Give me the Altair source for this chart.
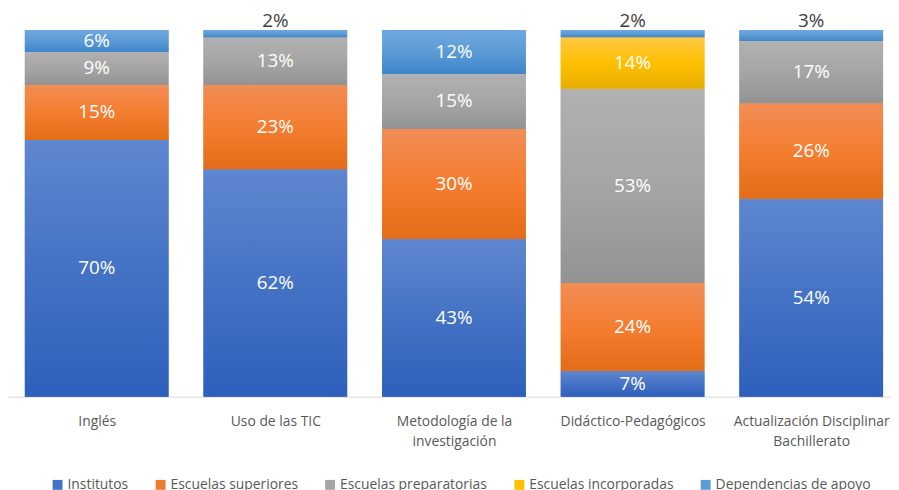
import altair as alt
import pandas as pd
import json

categories = ["Inglés", "Uso de las TIC", "Metodología de la investigación",
              "Didáctico-Pedagógicos", "Actualización Disciplinar Bachillerato"]
series = ["Institutos", "Escuelas superiores", "Escuelas preparatorias",
          "Escuelas incorporadas", "Dependencias de apoyo"]
institutos = [70, 62, 43, 7, 54]
superiores = [15, 23, 30, 24, 26]
preparatorias = [9, 13, 15, 53, 17]
incorporadas = [0, 0, 0, 14, 0]
apoyo = [6, 2, 12, 2, 3]

solid_colors = ["#4472c4", "#ed7d31", "#a5a5a5", "#ffc000", "#5b9bd5"]
gradient_stops = [
    ["#5f87cf", "#4472c4", "#2e5fbb"],
    ["#f18d55", "#f47d30", "#e36c18"],
    ["#b1b1b1", "#a5a5a5", "#939393"],
    ["#ffc843", "#ffc000", "#e5ad00"],
    ["#71a7e0", "#5b9bd5", "#3f85cb"],
]

HALF_BAR = 0.4022  # half bar width, in category steps

values_by_series = [institutos, superiores, preparatorias, incorporadas, apoyo]
rows = []
for si, (s, vals) in enumerate(zip(series, values_by_series)):
    for ci, c in enumerate(categories):
        if vals[ci] > 0:
            rows.append({"cat": c, "ci": ci, "series": s, "idx": si, "value": vals[ci]})
df = pd.DataFrame(rows)

line_breaks = {
    "Metodología de la investigación": ["Metodología de la", "investigación"],
    "Actualización Disciplinar Bachillerato": ["Actualización Disciplinar", "Bachillerato"],
}
label_list = [line_breaks.get(c, c) for c in categories]
expr = json.dumps(label_list, ensure_ascii=False) + "[datum.value]"

x_scale = alt.Scale(domain=[-0.4965, 4.4466], nice=False, zero=False)
x_axis = alt.Axis(title=None, ticks=False, grid=False, domainColor="#d9d9d9",
                  domainWidth=1, values=list(range(len(categories))),
                  labelAngle=0, labelFontSize=14, labelColor="#595959",
                  labelPadding=18, labelLineHeight=20, labelExpr=expr,
                  labelFont="Open Sans", labelFlush=False, labelOverlap=False,
                  labelBaseline="top")
y_scale = alt.Scale(domain=[0, 100], nice=False, zero=True)

base = alt.Chart(df).transform_stack(
    stack="value", groupby=["cat"], as_=["y0", "y1"],
    sort=[alt.SortField("idx", order="ascending")],
).transform_calculate(
    mid="(datum.y0 + datum.y1) / 2",
    label="datum.value + '%'",
    xl=f"datum.ci - {HALF_BAR}",
    xr=f"datum.ci + {HALF_BAR}",
)

solid = base.mark_bar().encode(
    x=alt.X("xl:Q", scale=x_scale, axis=x_axis),
    x2="xr:Q",
    y=alt.Y("y0:Q", scale=y_scale, axis=None),
    y2="y1:Q",
    color=alt.Color(
        "series:N",
        scale=alt.Scale(domain=series, range=solid_colors),
        legend=alt.Legend(
            title=None, orient="none", direction="horizontal", columns=5,
            legendX=43, legendY=452, symbolType="square", symbolSize=100,
            symbolStrokeWidth=0, labelFontSize=14, labelColor="#595959",
            labelFont="Open Sans", columnPadding=25, labelOffset=3,
        ),
    ),
)

layers = [solid]
for s, stops in zip(series, gradient_stops):
    grad = alt.Gradient(
        gradient="linear",
        stops=[alt.GradientStop(color=stops[0], offset=0),
               alt.GradientStop(color=stops[1], offset=0.5),
               alt.GradientStop(color=stops[2], offset=1)],
        x1=0, x2=0, y1=0, y2=1,
    )
    layers.append(
        base.transform_filter(alt.datum.series == s).mark_bar(color=grad).encode(
            x=alt.X("xl:Q", scale=x_scale, axis=x_axis),
            x2="xr:Q",
            y=alt.Y("y0:Q", scale=y_scale, axis=None),
            y2="y1:Q",
        )
    )

inside = base.transform_filter(alt.datum.value >= 5).mark_text(
    color="white", fontSize=19, font="Open Sans", baseline="middle",
).encode(
    x=alt.X("ci:Q", scale=x_scale, axis=x_axis),
    y=alt.Y("mid:Q", scale=y_scale, axis=None),
    text="label:N",
)
outside = base.transform_filter(alt.datum.value < 5).mark_text(
    color="#404040", fontSize=19, font="Open Sans", baseline="alphabetic", dy=-3,
).encode(
    x=alt.X("ci:Q", scale=x_scale, axis=x_axis),
    y=alt.Y("y1:Q", scale=y_scale, axis=None),
    text="label:N",
)
layers += [inside, outside]

chart = alt.layer(*layers).properties(
    width=891, height=370,
    padding={"left": 0, "right": 0, "top": 20, "bottom": 92},
    autosize=alt.AutoSizeParams(type="none"),
).configure(font="Open Sans").configure_view(stroke=None)

chart.save("out.html", embed_options={"renderer": "svg", "actions": False})
